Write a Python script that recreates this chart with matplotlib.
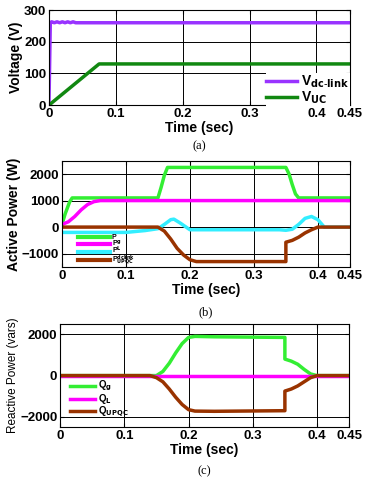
import matplotlib.pyplot as plt

plt.rcParams['font.family'] = ['Liberation Sans', 'DejaVu Sans']
plt.rcParams['mathtext.default'] = 'bf'

# (a) voltages
t_vdc = [0, 0.002, 0.004, 0.008, 0.012, 0.016, 0.020, 0.024, 0.028, 0.032, 0.036, 0.040, 0.045, 0.45]
v_dc = [5, 260, 263, 260, 263, 260, 263, 260, 263, 260, 263, 260, 260, 260]
t_vuc = [0, 0.075, 0.45]
v_uc = [0, 130, 130]

# (b) active power
t_pg = [0, 0.005, 0.012, 0.016, 0.15, 0.155, 0.16, 0.165, 0.35, 0.355, 0.36, 0.365, 0.37, 0.45]
p_g = [100, 500, 950, 1100, 1100, 1500, 1950, 2250, 2250, 2000, 1600, 1250, 1100, 1100]
t_pl = [0, 0.01, 0.02, 0.03, 0.04, 0.05, 0.06, 0.45]
p_l = [100, 200, 400, 650, 850, 960, 1000, 1000]
t_pdc = [0, 0.10, 0.13, 0.15, 0.16, 0.17, 0.175, 0.185, 0.2, 0.34, 0.35, 0.36, 0.37, 0.38, 0.39, 0.40, 0.41, 0.45]
p_dc = [-200, -200, -130, -60, 100, 280, 300, 150, -100, -100, -120, -80, 100, 330, 400, 280, 0, 0]
t_pupqc = [0, 0.15, 0.16, 0.17, 0.18, 0.19, 0.2, 0.21, 0.35, 0.35, 0.36, 0.37, 0.38, 0.39, 0.40, 0.45]
p_upqc = [0, 0, -150, -450, -800, -1050, -1230, -1300, -1300, -570, -500, -380, -220, -100, 0, 0]

# (c) reactive power
t_qg = [0, 0.15, 0.16, 0.17, 0.18, 0.19, 0.2, 0.21, 0.24, 0.35, 0.35, 0.36, 0.37, 0.38, 0.39, 0.40, 0.45]
q_g = [0, 0, 200, 600, 1100, 1550, 1850, 1900, 1880, 1850, 800, 700, 550, 300, 80, 0, 0]
t_ql = [0, 0.45]
q_l = [0, 0]
t_qu = [0, 0.14, 0.15, 0.16, 0.17, 0.18, 0.19, 0.2, 0.21, 0.24, 0.35, 0.35, 0.36, 0.37, 0.38, 0.39, 0.40, 0.45]
q_upqc = [0, 0, -100, -300, -650, -1050, -1400, -1650, -1720, -1730, -1700, -750, -650, -500, -300, -100, 0, 0]

xticks = [0, 0.1, 0.2, 0.3, 0.4, 0.45]
xticklabels = ['0', '0.1', '0.2', '0.3', '0.4', '0.45']

fig = plt.figure(figsize=(3.71, 4.8), dpi=100)
ax1 = fig.add_axes([0.132, 0.781, 0.811, 0.198])
ax2 = fig.add_axes([0.167, 0.444, 0.776, 0.221])
ax3 = fig.add_axes([0.162, 0.110, 0.779, 0.215])


def style(ax):
    ax.set_xlim(0, 0.45)
    ax.set_xticks(xticks)
    ax.set_xticklabels(xticklabels)
    ax.grid(True, color='black', linewidth=0.7)
    ax.tick_params(direction='in', labelsize=9.5, length=3, top=True, right=True, pad=2)
    for lab in ax.get_xticklabels() + ax.get_yticklabels():
        lab.set_fontweight('bold')
    ax.set_xlabel('Time (sec)', fontsize=10, fontweight='bold', labelpad=1)
    for s in ax.spines.values():
        s.set_linewidth(0.8)


ax1.plot(t_vdc, v_dc, color='#9933ff', lw=2.5, label=r'V$_{dc\text{-}link}$')
ax1.plot(t_vuc, v_uc, color='#118811', lw=2.5, label=r'V$_{UC}$')
ax1.set_ylim(0, 300)
ax1.set_yticks([0, 100, 200, 300])
style(ax1)
ax1.set_ylabel('Voltage (V)', fontsize=10, fontweight='bold', labelpad=1)
leg = ax1.legend(loc='upper right', frameon=True, edgecolor='none', fancybox=False,
                 prop={'size': 10, 'weight': 'bold'}, handlelength=2.2, handletextpad=0.3,
                 borderpad=0.05, labelspacing=0.0, borderaxespad=0,
                 bbox_to_anchor=(1.0, 0.34), framealpha=1)
leg.get_frame().set_linewidth(0)

ax2.plot(t_pg, p_g, color='#33ee33', lw=2.5, label='P')
ax2.plot(t_pl, p_l, color='#ff00ff', lw=2.5, label=r'P$^{g}$')
ax2.plot(t_pdc, p_dc, color='#33eeff', lw=2.5, label=r'P$^{L}$')
ax2.plot(t_pupqc, p_upqc, color='#993300', lw=2.5, label=r'P$^{dclink}_{UPQC}$')
ax2.set_ylim(-1500, 2500)
ax2.set_yticks([-1000, 0, 1000, 2000])
style(ax2)
ax2.set_ylabel('Active Power (W)', fontsize=10, fontweight='bold', labelpad=1)
leg2 = ax2.legend(loc='lower left', frameon=False, prop={'size': 5, 'weight': 'bold'},
                  handlelength=4.6, handleheight=0.5, handletextpad=0.3, borderpad=0.0,
                  labelspacing=-0.45, borderaxespad=0, bbox_to_anchor=(0.055, 0.0))
for h in leg2.get_lines():
    h.set_linewidth(3)

ax3.plot(t_qg, q_g, color='#33ee33', lw=2.5, label=r'Q$_{g}$')
ax3.plot(t_ql, q_l, color='#ff00ff', lw=2.5, label=r'Q$_{L}$')
ax3.plot(t_qu, q_upqc, color='#993300', lw=2.5, label=r'Q$_{UPQC}$')
ax3.set_ylim(-2500, 2500)
ax3.set_yticks([-2000, 0, 2000])
style(ax3)
ax3.set_ylabel('Reactive Power (vars)', fontsize=8.5, fontweight='normal', labelpad=1)
ax3.legend(loc='lower left', frameon=False, prop={'size': 7, 'weight': 'bold'},
           handlelength=2.6, handleheight=0.5, handletextpad=0.3, borderpad=0.0,
           labelspacing=-0.15, borderaxespad=0, bbox_to_anchor=(0.035, 0.08))

for ax in (ax1, ax2, ax3):
    ax.text(0.5, -0.37, '(' + 'abc'[(ax1, ax2, ax3).index(ax)] + ')', transform=ax.transAxes,
            ha='center', va='top', fontsize=9, fontweight='normal', family='Liberation Serif')

fig.savefig('out.png', dpi=100)
